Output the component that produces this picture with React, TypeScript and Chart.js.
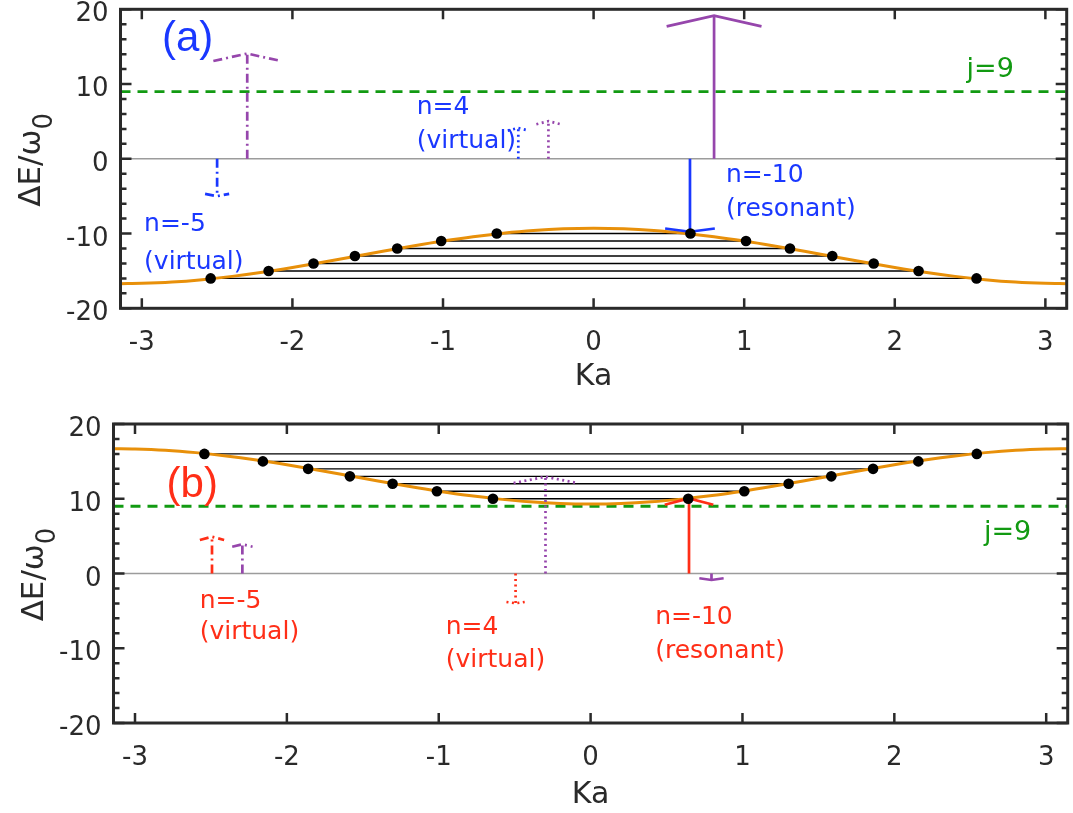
import React, { useEffect, useRef } from "react";
import { Chart, registerables } from "chart.js";

Chart.register(...registerables);

// ---------------- data ----------------
const K_MIN = -3.14159;
const K_MAX = 3.14159;

const xTickValues = [-3, -2, -1, 0, 1, 2, 3];
const yTickValues = [-20, -10, 0, 10, 20];
const yMinorValues = [-18, -16, -14, -12, -8, -6, -4, -2, 2, 4, 6, 8, 12, 14, 16, 18];

const bandK = [-3.1416, -3.0, -2.8, -2.6, -2.4, -2.2, -2.0, -1.8, -1.6, -1.4, -1.2, -1.0, -0.8, -0.6, -0.4, -0.2, 0, 0.2, 0.4, 0.6, 0.8, 1.0, 1.2, 1.4, 1.6, 1.8, 2.0, 2.2, 2.4, 2.6, 2.8, 3.0, 3.1416];
const bandTop = [-16.7, -16.66, -16.49, -16.17, -15.73, -15.18, -14.54, -13.84, -13.11, -12.37, -11.66, -11.0, -10.42, -9.95, -9.59, -9.37, -9.3, -9.37, -9.59, -9.95, -10.42, -11.0, -11.66, -12.37, -13.11, -13.84, -14.54, -15.18, -15.73, -16.17, -16.49, -16.66, -16.7];
const bandBottom = [16.7, 16.66, 16.49, 16.17, 15.73, 15.18, 14.54, 13.84, 13.11, 12.37, 11.66, 11.0, 10.42, 9.95, 9.59, 9.37, 9.3, 9.37, 9.59, 9.95, 10.42, 11.0, 11.66, 12.37, 13.11, 13.84, 14.54, 15.18, 15.73, 16.17, 16.49, 16.66, 16.7];

const levelK = [0.643, 1.012, 1.304, 1.585, 1.86, 2.158, 2.543];
const levelTop = [-10, -11, -12, -13, -14, -15, -16];
const levelBottom = [10, 11, 12, 13, 14, 15, 16];

const jLevel = 9;
const zeroLevel = 0;

const arrowXTop = [-2.3, -2.5, -0.5, -0.3, 0.8, 0.64];
const arrowEndTop = [14.08, -5.0, 4.12, 5.03, 19.16, -9.76];
const arrowXBottom = [-2.493, -2.293, -0.297, -0.494, 0.648, 0.796];
const arrowEndBottom = [4.92, 3.9, 12.94, -3.98, 10.05, -0.87];

const labelTextTop = ["(a)", "n=-5", "(virtual)", "n=4", "(virtual)", "n=-10", "(resonant)", "j=9"];
const labelTextBottom = ["(b)", "n=-5", "(virtual)", "n=4", "(virtual)", "n=-10", "(resonant)", "j=9"];

// ---------------- styles / layout ----------------
const BLUE = "#1a38ff";
const RED = "#ff2e17";
const PURPLE = "#9646ac";
const GREEN = "#129a12";
const ORANGE = "#e8900a";
const AXIS = "#2a2a2a";
const DASHDOT = [9, 4, 2, 4];
const DOTTED = [2, 3.5];
const SOLID: number[] = [];
const FONT = '"DejaVu Sans"';
const BIG = '"Liberation Sans"';

const arrowStyleTop = [
  { color: PURPLE, dash: DASHDOT, hw: 0.225, hh: 1.0 },
  { color: BLUE, dash: DASHDOT, hw: 0.08, hh: 0.3 },
  { color: BLUE, dash: DOTTED, hw: 0.07, hh: 0.35 },
  { color: PURPLE, dash: DOTTED, hw: 0.08, hh: 0.4 },
  { color: PURPLE, dash: SOLID, hw: 0.315, hh: 1.45 },
  { color: BLUE, dash: SOLID, hw: 0.165, hh: 0.44 },
];
const arrowStyleBottom = [
  { color: RED, dash: DASHDOT, hw: 0.08, hh: 0.44 },
  { color: PURPLE, dash: DASHDOT, hw: 0.067, hh: 0.32 },
  { color: PURPLE, dash: DOTTED, hw: 0.21, hh: 0.84 },
  { color: RED, dash: DOTTED, hw: 0.06, hh: 0.17 },
  { color: RED, dash: SOLID, hw: 0.16, hh: 0.85 },
  { color: PURPLE, dash: SOLID, hw: 0.08, hh: 0.23 },
];

const labelPosTop = [
  { k: -2.866, e: 14.4, size: 42, family: BIG, color: BLUE },
  { k: -2.985, e: -9.68, size: 25, family: FONT, color: BLUE },
  { k: -2.985, e: -14.8, size: 25, family: FONT, color: BLUE },
  { k: -1.175, e: 6.02, size: 25, family: FONT, color: BLUE },
  { k: -1.175, e: 1.38, size: 25, family: FONT, color: BLUE },
  { k: 0.879, e: -3.17, size: 25, family: FONT, color: BLUE },
  { k: 0.879, e: -7.7, size: 25, family: FONT, color: BLUE },
  { k: 2.477, e: 10.96, size: 27, family: FONT, color: GREEN },
];
const labelPosBottom = [
  { k: -2.792, e: 10.27, size: 42, family: BIG, color: RED },
  { k: -2.574, e: -4.65, size: 25, family: FONT, color: RED },
  { k: -2.574, e: -8.8, size: 25, family: FONT, color: RED },
  { k: -0.954, e: -8.09, size: 25, family: FONT, color: RED },
  { k: -0.954, e: -12.46, size: 25, family: FONT, color: RED },
  { k: 0.425, e: -6.75, size: 25, family: FONT, color: RED },
  { k: 0.425, e: -11.34, size: 25, family: FONT, color: RED },
  { k: 2.59, e: 4.48, size: 27, family: FONT, color: GREEN },
];

function lineSet(data: any[], color: string, width: number, dash: number[] = []) {
  return {
    data,
    showLine: true,
    borderColor: color,
    backgroundColor: color,
    borderWidth: width,
    borderDash: dash,
    pointRadius: 0,
    pointHoverRadius: 0,
    fill: false,
    tension: 0,
    borderJoinStyle: "miter" as const,
  };
}

function buildDatasets(band: number[], levels: number[], arrowX: number[], arrowEnd: number[], styles: any[]) {
  const layers: any[] = [];
  layers.push(lineSet([{ x: K_MIN, y: zeroLevel }, { x: K_MAX, y: zeroLevel }], "#9c9c9c", 1.4));
  levelK.forEach((k, i) => {
    layers.push(lineSet([{ x: -k, y: levels[i] }, { x: k, y: levels[i] }], "#000000", 1.4));
  });
  layers.push(lineSet([{ x: K_MIN, y: jLevel }, { x: K_MAX, y: jLevel }], GREEN, 2.8, [10, 7]));
  layers.push({
    ...lineSet(bandK.map((k, i) => ({ x: k, y: band[i] })), ORANGE, 3),
    tension: 0.4,
    cubicInterpolationMode: "monotone",
  });
  arrowX.forEach((ax, i) => {
    const st = styles[i];
    const end = arrowEnd[i];
    const sgn = end >= 0 ? 1 : -1;
    layers.push(lineSet([{ x: ax, y: zeroLevel }, { x: ax, y: end }], st.color, 2.7, st.dash));
    layers.push(
      lineSet(
        [
          { x: ax - st.hw, y: end - sgn * st.hh },
          { x: ax, y: end },
          { x: ax + st.hw, y: end - sgn * st.hh },
        ],
        st.color,
        2.7,
        st.dash
      )
    );
  });
  const dots: any[] = [];
  levelK.forEach((k, i) => {
    dots.push({ x: -k, y: levels[i] });
    dots.push({ x: k, y: levels[i] });
  });
  layers.push({
    data: dots,
    showLine: false,
    pointRadius: 5.3,
    pointHoverRadius: 5.3,
    pointBackgroundColor: "#000000",
    pointBorderWidth: 0,
    borderColor: "#000000",
  });
  return layers.map((d, i) => ({ ...d, order: layers.length - i }));
}

function makeDecor(cfg: any) {
  return {
    id: "decor_" + cfg.name,
    afterDraw(chart: any) {
      const ctx = chart.ctx;
      const x = chart.scales.x;
      const y = chart.scales.y;
      const { left, right, top, bottom } = chart.chartArea;
      ctx.save();
      ctx.setLineDash([]);
      ctx.strokeStyle = AXIS;
      ctx.lineWidth = 2.5;
      ctx.beginPath();
      xTickValues.forEach((v) => {
        const px = x.getPixelForValue(v);
        ctx.moveTo(px, bottom);
        ctx.lineTo(px, bottom - 10);
        ctx.moveTo(px, top);
        ctx.lineTo(px, top + 10);
      });
      yTickValues.forEach((v) => {
        const py = y.getPixelForValue(v);
        ctx.moveTo(left, py);
        ctx.lineTo(left + 11, py);
        ctx.moveTo(right, py);
        ctx.lineTo(right - 11, py);
      });
      yMinorValues.forEach((v) => {
        const py = y.getPixelForValue(v);
        ctx.moveTo(left, py);
        ctx.lineTo(left + 6, py);
        ctx.moveTo(right, py);
        ctx.lineTo(right - 6, py);
      });
      ctx.stroke();
      ctx.lineWidth = 3;
      ctx.strokeRect(left, top, right - left, bottom - top);

      // tick labels
      ctx.fillStyle = AXIS;
      ctx.font = `26px ${FONT}`;
      ctx.textBaseline = "alphabetic";
      ctx.textAlign = "center";
      xTickValues.forEach((v) => ctx.fillText(String(v), x.getPixelForValue(v), bottom + 42));
      ctx.textAlign = "right";
      yTickValues.forEach((v) => ctx.fillText(String(v), left - 12, y.getPixelForValue(v) + 12));

      // x title
      ctx.textAlign = "center";
      ctx.font = `30px ${FONT}`;
      ctx.fillText("Ka", x.getPixelForValue(0), bottom + cfg.xTitleOffset);

      // y title with subscript
      ctx.save();
      ctx.translate(cfg.yTitleX, y.getPixelForValue(0) + 1);
      ctx.rotate(-Math.PI / 2);
      ctx.textAlign = "left";
      ctx.font = `31px ${FONT}`;
      const main = "\u0394E/\u03c9";
      const w1 = ctx.measureText(main).width;
      ctx.font = `26px ${FONT}`;
      const w2 = ctx.measureText("0").width;
      const start = -(w1 + w2) / 2;
      ctx.font = `31px ${FONT}`;
      ctx.fillText(main, start, 0);
      ctx.font = `26px ${FONT}`;
      ctx.fillText("0", start + w1, 12);
      ctx.restore();

      // annotations
      ctx.textAlign = "left";
      cfg.labels.forEach((t: string, i: number) => {
        const p = cfg.labelPos[i];
        ctx.font = `${p.size}px ${p.family}`;
        ctx.fillStyle = p.color;
        ctx.fillText(t, x.getPixelForValue(p.k), y.getPixelForValue(p.e));
      });
      ctx.restore();
    },
  };
}

function makeConfig(cfg: any): any {
  return {
    type: "scatter",
    data: { datasets: cfg.datasets },
    options: {
      responsive: false,
      animation: false,
      events: [],
      layout: { padding: cfg.padding },
      plugins: { legend: { display: false }, tooltip: { enabled: false } },
      scales: {
        x: {
          type: "linear",
          min: K_MIN,
          max: K_MAX,
          grid: { display: false },
          border: { display: false },
          ticks: { display: false },
          afterBuildTicks: (s: any) => {
            s.ticks = xTickValues.map((v) => ({ value: v }));
          },
          afterFit: (s: any) => {
            s.height = cfg.xHeight;
          },
        },
        y: {
          type: "linear",
          min: -20,
          max: 20,
          grid: { display: false },
          border: { display: false },
          ticks: { display: false },
          afterBuildTicks: (s: any) => {
            s.ticks = yTickValues.map((v) => ({ value: v }));
          },
          afterFit: (s: any) => {
            s.width = cfg.yWidth;
          },
        },
      },
    },
    plugins: [makeDecor(cfg)],
  };
}

export default function App() {
  const topRef = useRef<HTMLCanvasElement | null>(null);
  const botRef = useRef<HTMLCanvasElement | null>(null);

  useEffect(() => {
    const c1 = new Chart(
      topRef.current as HTMLCanvasElement,
      makeConfig({
        name: "a",
        datasets: buildDatasets(bandTop, levelTop, arrowXTop, arrowEndTop, arrowStyleTop),
        padding: { top: 9.3, right: 6.3, left: 0, bottom: 0 },
        yWidth: 120.5,
        xHeight: 91.7,
        xTitleOffset: 77,
        yTitleX: 40,
        labels: labelTextTop,
        labelPos: labelPosTop,
      })
    );
    const c2 = new Chart(
      botRef.current as HTMLCanvasElement,
      makeConfig({
        name: "b",
        datasets: buildDatasets(bandBottom, levelBottom, arrowXBottom, arrowEndBottom, arrowStyleBottom),
        padding: { top: 24, right: 2.3, left: 0, bottom: 0 },
        yWidth: 113.5,
        xHeight: 90,
        xTitleOffset: 80,
        yTitleX: 43,
        labels: labelTextBottom,
        labelPos: labelPosBottom,
      })
    );
    return () => {
      c1.destroy();
      c2.destroy();
    };
  }, []);

  return (
    <div style={{ position: "absolute", left: 0, top: 0, width: 1073, height: 813, background: "#ffffff" }}>
      <canvas ref={topRef} width={1073} height={400} style={{ position: "absolute", left: 0, top: 0, display: "block" }} />
      <canvas ref={botRef} width={1073} height={413} style={{ position: "absolute", left: 0, top: 400, display: "block" }} />
    </div>
  );
}
